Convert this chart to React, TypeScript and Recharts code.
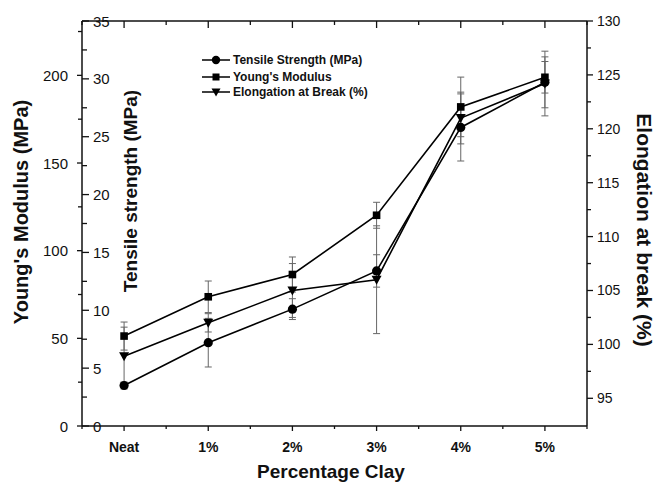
import React from 'react';
import { LineChart, Line, XAxis, YAxis, ErrorBar, Legend } from 'recharts';

const categories = ['Neat', '1%', '2%', '3%', '4%', '5%'];
const tensileStrength = [3.5, 7.2, 10.1, 13.4, 25.8, 29.7];
const tensileErr = [0.3, 2.1, 0.9, 1.4, 2.9, 2.2];
const youngsModulus = [51.3, 73.7, 86.4, 120.2, 182, 198.9];
const youngsErr = [8, 9, 10, 7.4, 17, 9];
const elongation = [98.9, 102.0, 105.0, 106.0, 121.0, 124.2];
const elongationErr = [2.7, 0.85, 2.5, 5, 2.4, 3];

const seriesNames = ['Tensile Strength (MPa)', "Young's Modulus", 'Elongation at Break (%)'];

const xTicks = [-0.5, 0, 0.5, 1, 1.5, 2, 2.5, 3, 3.5, 4, 4.5, 5, 5.5];
const youngTicks = [0, 25, 50, 75, 100, 125, 150, 175, 200, 225];
const tensileTicks = [0, 2.5, 5, 7.5, 10, 12.5, 15, 17.5, 20, 22.5, 25, 27.5, 30, 32.5, 35];
const elongTicks = [95, 97.5, 100, 102.5, 105, 107.5, 110, 112.5, 115, 117.5, 120, 122.5, 125, 127.5, 130];

const data = categories.map((c, i) => ({
  x: i,
  name: c,
  tensile: tensileStrength[i],
  tensileErr: tensileErr[i],
  young: youngsModulus[i],
  youngErr: youngsErr[i],
  elong: elongation[i],
  elongErr: elongationErr[i],
}));

const W = 655;
const H = 482;
// plot area: left 82, right 587, top 21, bottom 426 (axes take 1px each)
const M = { top: 20, right: 67, bottom: 55, left: 81 };
const FONT = '"Liberation Sans", Arial, Helvetica, sans-serif';
const INK = '#111';

const YoungTick = (p: any) => {
  const { x, y, payload } = p;
  const v = payload.value;
  const major = v % 50 === 0;
  return (
    <g>
      <line x1={x} x2={x - (major ? 5 : 4)} y1={y} y2={y} stroke={INK} strokeWidth={1.3} />
      {major && (
        <text x={x - 14} y={y} textAnchor="end" dominantBaseline="central" fontSize={15} fontFamily={FONT} fill={INK}>
          {v}
        </text>
      )}
    </g>
  );
};

const TensileTick = (p: any) => {
  const { x, y, payload } = p;
  const v = payload.value;
  const major = v % 5 === 0;
  return (
    <g>
      <line x1={x} x2={x + (major ? 7 : 5)} y1={y} y2={y} stroke={INK} strokeWidth={1.3} />
      {major && (
        <text x={x + 11} y={y} textAnchor="start" dominantBaseline="central" fontSize={15} fontFamily={FONT} fill={INK}>
          {v}
        </text>
      )}
    </g>
  );
};

const ElongTick = (p: any) => {
  const { x, y, payload } = p;
  const v = payload.value;
  const major = v % 5 === 0;
  return (
    <g>
      <line x1={x} x2={x + (major ? 6 : 4)} y1={y} y2={y} stroke={INK} strokeWidth={1.3} />
      {major && (
        <text x={x + 10} y={y} textAnchor="start" dominantBaseline="central" fontSize={14} fontFamily={FONT} fill={INK}>
          {v}
        </text>
      )}
    </g>
  );
};

const BottomTick = (p: any) => {
  const { x, y, payload } = p;
  const v = payload.value;
  const major = Number.isInteger(v);
  return (
    <g>
      <line x1={x} x2={x} y1={y} y2={y + (major ? 5 : 3)} stroke={INK} strokeWidth={1.3} />
      {major && (
        <text x={x} y={y + 21} textAnchor="middle" dominantBaseline="central" fontSize={14} fontWeight="bold" fontFamily={FONT} fill={INK}>
          {categories[v]}
        </text>
      )}
    </g>
  );
};

const TopTick = (p: any) => {
  const { x, y, payload } = p;
  const major = Number.isInteger(payload.value);
  return <line x1={x} x2={x} y1={y} y2={y + (major ? 7 : 4)} stroke={INK} strokeWidth={1.3} />;
};

const SquareDot = (p: any) => {
  const { cx, cy, index } = p;
  if (cx == null || cy == null) return <g key={`sq-${index}`} />;
  return <rect key={`sq-${index}`} x={cx - 3.8} y={cy - 3.8} width={7.6} height={7.6} fill="#000" />;
};

const TriangleDot = (p: any) => {
  const { cx, cy, index } = p;
  if (cx == null || cy == null) return <g key={`tr-${index}`} />;
  return (
    <polygon
      key={`tr-${index}`}
      points={`${cx - 5},${cy - 4} ${cx + 5},${cy - 4} ${cx},${cy + 5}`}
      fill="#000"
    />
  );
};

const CircleDot = (p: any) => {
  const { cx, cy, index } = p;
  if (cx == null || cy == null) return <g key={`ci-${index}`} />;
  return <circle key={`ci-${index}`} cx={cx} cy={cy} r={4.6} fill="#000" />;
};

const titleStyle = { fontFamily: FONT, fontWeight: 'bold' as const, fill: INK };

const YoungTitle = () => (
  <text x={21} y={212} transform="rotate(-90 21 212)" textAnchor="middle" dominantBaseline="central" fontSize={20} {...titleStyle}>
    Young's Modulus (MPa)
  </text>
);
const TensileTitle = () => (
  <text x={130} y={191} transform="rotate(-90 130 191)" textAnchor="middle" dominantBaseline="central" fontSize={19} {...titleStyle}>
    Tensile strength (MPa)
  </text>
);
const ElongTitle = () => (
  <text x={644} y={230} transform="rotate(90 644 230)" textAnchor="middle" dominantBaseline="central" fontSize={21} {...titleStyle}>
    Elongation at break (%)
  </text>
);
const XTitle = () => (
  <text x={331} y={478} textAnchor="middle" fontSize={19} {...titleStyle}>
    Percentage Clay
  </text>
);

const LegendBox = () => {
  const rows = [10, 27, 42];
  const markers = [
    (cx: number, cy: number) => <circle cx={cx} cy={cy} r={4.2} fill="#000" />,
    (cx: number, cy: number) => <rect x={cx - 3.5} y={cy - 3.5} width={7} height={7} fill="#000" />,
    (cx: number, cy: number) => <polygon points={`${cx - 4.5},${cy - 3.5} ${cx + 4.5},${cy - 3.5} ${cx},${cy + 4.5}`} fill="#000" />,
  ];
  return (
    <svg width={240} height={52} style={{ display: 'block', overflow: 'visible' }}>
      {seriesNames.map((n, i) => (
        <g key={n}>
          <line x1={7} x2={35} y1={rows[i]} y2={rows[i]} stroke="#000" strokeWidth={1.5} />
          {markers[i](21, rows[i])}
          <text x={38} y={rows[i]} dominantBaseline="central" fontSize={12} fontWeight="bold" fontFamily={FONT} fill={INK}>
            {n}
          </text>
        </g>
      ))}
    </svg>
  );
};

export default function App() {
  return (
    <div style={{ position: 'absolute', left: 0, top: 0, width: W, height: H, background: '#fff' }}>
      <LineChart width={W} height={H} data={data} margin={M}>
        <XAxis
          xAxisId="bottom"
          type="number"
          dataKey="x"
          domain={[-0.5, 5.5]}
          ticks={xTicks}
          interval={0}
          height={1}
          tickSize={0}
          tickMargin={0}
          tickLine={false}
          tick={<BottomTick />}
          axisLine={{ stroke: INK, strokeWidth: 1.5 }}
          label={XTitle}
        />
        <XAxis
          xAxisId="top"
          orientation="top"
          type="number"
          dataKey="x"
          domain={[-0.5, 5.5]}
          ticks={xTicks}
          interval={0}
          height={1}
          tickSize={0}
          tickMargin={0}
          tickLine={false}
          tick={<TopTick />}
          axisLine={{ stroke: INK, strokeWidth: 1.5 }}
        />
        <YAxis
          yAxisId="young"
          orientation="left"
          type="number"
          domain={[0, 231]}
          ticks={youngTicks}
          interval={0}
          width={1}
          tickSize={0}
          tickMargin={0}
          tickLine={false}
          axisLine={false}
          tick={<YoungTick />}
          label={YoungTitle}
        />
        <YAxis
          yAxisId="tensile"
          orientation="left"
          mirror
          type="number"
          domain={[0, 35]}
          ticks={tensileTicks}
          interval={0}
          width={1}
          tickSize={0}
          tickMargin={0}
          tickLine={false}
          axisLine={{ stroke: INK, strokeWidth: 1.5 }}
          tick={<TensileTick />}
          label={TensileTitle}
        />
        <YAxis
          yAxisId="elong"
          orientation="right"
          type="number"
          domain={[92.43, 130]}
          ticks={elongTicks}
          interval={0}
          width={1}
          tickSize={0}
          tickMargin={0}
          tickLine={false}
          axisLine={{ stroke: INK, strokeWidth: 1.5 }}
          tick={<ElongTick />}
          label={ElongTitle}
        />
        <Legend
          layout="horizontal"
          verticalAlign="middle"
          align="center"
          content={<LegendBox />}
          wrapperStyle={{ left: 195, top: 50, width: 240, height: 52 }}
        />
        <Line
          xAxisId="bottom"
          yAxisId="young"
          dataKey="young"
          name={seriesNames[1]}
          type="linear"
          stroke="#000"
          strokeWidth={1.6}
          dot={SquareDot}
          activeDot={false}
          isAnimationActive={false}
        >
          <ErrorBar dataKey="youngErr" direction="y" width={3.5} stroke="#666" strokeWidth={1} />
        </Line>
        <Line
          xAxisId="bottom"
          yAxisId="elong"
          dataKey="elong"
          name={seriesNames[2]}
          type="linear"
          stroke="#000"
          strokeWidth={1.6}
          dot={TriangleDot}
          activeDot={false}
          isAnimationActive={false}
        >
          <ErrorBar dataKey="elongErr" direction="y" width={3.5} stroke="#666" strokeWidth={1} />
        </Line>
        <Line
          xAxisId="bottom"
          yAxisId="tensile"
          dataKey="tensile"
          name={seriesNames[0]}
          type="linear"
          stroke="#000"
          strokeWidth={1.6}
          dot={CircleDot}
          activeDot={false}
          isAnimationActive={false}
        >
          <ErrorBar dataKey="tensileErr" direction="y" width={3.5} stroke="#666" strokeWidth={1} />
        </Line>
      </LineChart>
    </div>
  );
}
